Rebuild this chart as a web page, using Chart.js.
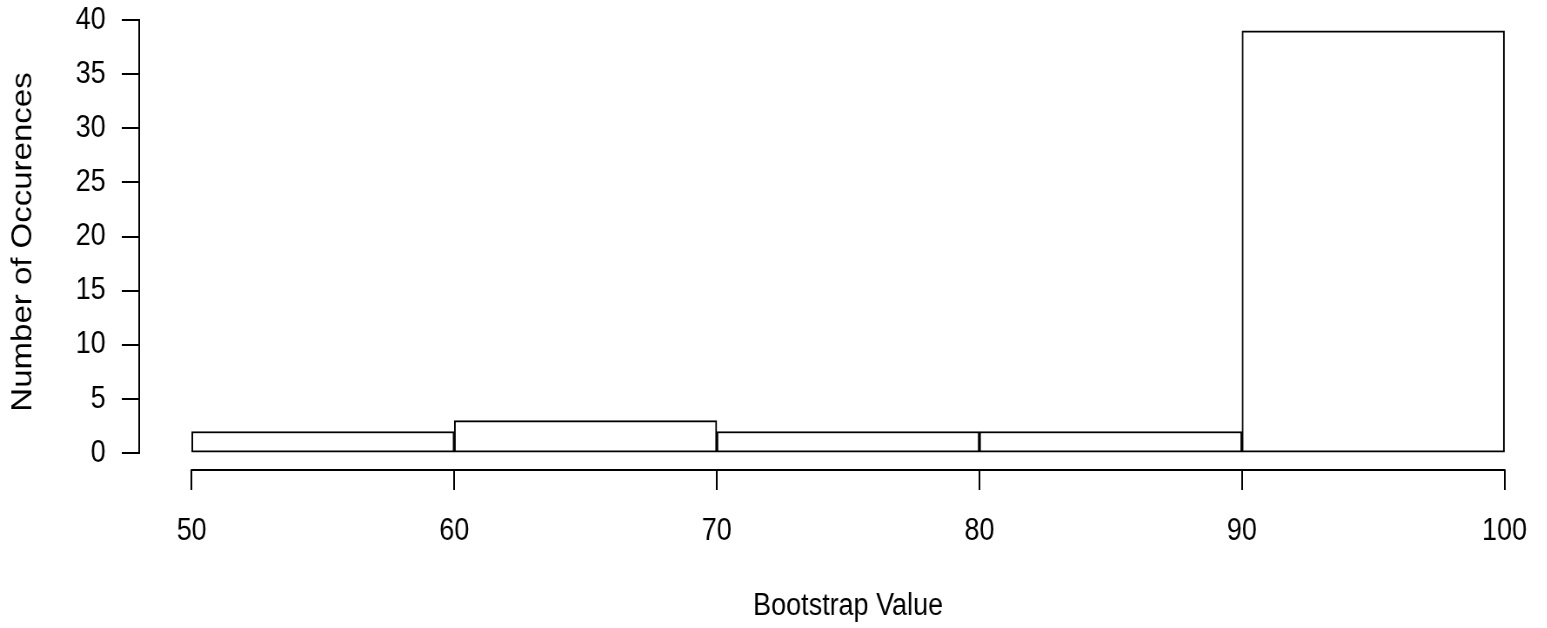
<!DOCTYPE html>
<html>
<head>
<meta charset="utf-8">
<script src="https://cdn.jsdelivr.net/npm/chart.js@4"></script>
<style>
  html, body { margin: 0; padding: 0; background: #fff; overflow: hidden; }
</style>
</head>
<body>
<!-- drawn a bit wider than shown, then squeezed like the source image -->
<canvas id="hist" width="1790" height="628" style="display:block;width:1557px;height:628px"></canvas>
<script>
const binEdges = [50, 60, 70, 80, 90, 100];
const counts = [2, 3, 2, 2, 39];
const xTickValues = [50, 60, 70, 80, 90, 100];
const yTickValues = [0, 5, 10, 15, 20, 25, 30, 35, 40];

// one bar per bin, centred between its edges
const bars = counts.map((c, i) => ({ x: (binEdges[i] + binEdges[i + 1]) / 2, y: c }));

// R-like axis range: 4% extra on every side
const xPad = (binEdges[binEdges.length - 1] - binEdges[0]) * 0.04;
const yMax = Math.max(...counts);
const yPad = yMax * 0.04;

const font = { family: "'Liberation Sans', Arial, Helvetica, sans-serif", size: 31 };

// R draws the axis line only from first to last tick
const rAxes = {
  id: 'rAxes',
  afterDraw(chart) {
    const { ctx, chartArea, scales: { x, y } } = chart;
    ctx.save();
    ctx.strokeStyle = '#000';
    ctx.lineWidth = 2;
    ctx.lineCap = 'square';
    ctx.beginPath();
    ctx.moveTo(chartArea.left, y.getPixelForValue(yTickValues[0]));
    ctx.lineTo(chartArea.left, y.getPixelForValue(yTickValues[yTickValues.length - 1]));
    ctx.moveTo(x.getPixelForValue(xTickValues[0]), chartArea.bottom);
    ctx.lineTo(x.getPixelForValue(xTickValues[xTickValues.length - 1]), chartArea.bottom);
    ctx.stroke();
    ctx.restore();
  }
};

const ctx = document.getElementById('hist').getContext('2d');
new Chart(ctx, {
  type: 'bar',
  data: {
    datasets: [{
      data: bars,
      backgroundColor: '#fff',
      borderColor: '#000',
      borderWidth: 2,
      borderSkipped: false,
      barPercentage: 1,
      categoryPercentage: 1
    }]
  },
  options: {
    responsive: false,
    animation: false,
    layout: { padding: { top: 14, left: 0, right: 0, bottom: 0 } },
    plugins: { legend: { display: false }, tooltip: { enabled: false } },
    scales: {
      x: {
        type: 'linear',
        offset: false,
        min: binEdges[0] - xPad,
        max: binEdges[binEdges.length - 1] + xPad,
        afterBuildTicks: s => { s.ticks = xTickValues.map(v => ({ value: v })); },
        afterFit: s => { s.height = 158; s.paddingLeft = 0; s.paddingRight = 0; },
        border: { display: false },
        grid: { offset: false, drawOnChartArea: false, drawTicks: true, tickLength: 20, color: '#000', lineWidth: 2 },
        ticks: { color: '#000', font, padding: 22.7, maxRotation: 0, autoSkip: false },
        title: { display: true, text: 'Bootstrap Value', color: '#000', font, padding: { top: 0, bottom: 3 } }
      },
      y: {
        min: -yPad,
        max: yMax + yPad,
        afterBuildTicks: s => { s.ticks = yTickValues.map(v => ({ value: v })); },
        afterFit: s => { s.width = 160; s.paddingTop = 0; s.paddingBottom = 0; },
        border: { display: false },
        grid: { drawOnChartArea: false, drawTicks: true, tickLength: 20, color: '#000', lineWidth: 2 },
        ticks: { color: '#000', font, padding: 18.6, autoSkip: false },
        title: {
          display: true, text: 'Number of Occurences', color: '#000',
          font: { family: font.family, size: 33 }, padding: { top: 6.7, bottom: 0 }
        }
      }
    }
  },
  plugins: [rAxes]
});
</script>
</body>
</html>
